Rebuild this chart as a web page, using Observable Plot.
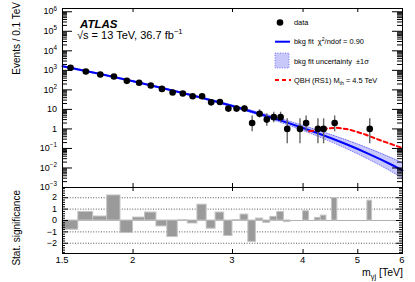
<!DOCTYPE html>
<html>
<head>
<meta charset="utf-8">
<script src="https://cdn.jsdelivr.net/npm/d3@7"></script>
<script src="https://cdn.jsdelivr.net/npm/@observablehq/plot@0.6"></script>
<style>
  html, body { margin: 0; padding: 0; background: #fff; }
  #chart { position: relative; width: 415px; height: 282px; overflow: hidden; background: #fff; }
  #chart svg { position: absolute; left: 0; overflow: visible; background: transparent; }
  #chart text { white-space: pre; }
</style>
</head>
<body>
<div id="chart"></div>
<script>
const FONT = "'Liberation Sans', Arial, Helvetica, sans-serif";

// ---- data ----
const dataMass   = [1.55,1.65,1.75,1.85,1.95,2.05,2.15,2.25,2.35,2.45,2.55,2.65,2.75,2.85,2.95,3.05,3.15,3.25,3.35,3.45,3.55,3.65,3.75,3.95,4.05,4.25,4.35,4.55,5.25];
const dataEvents = [1350,870,610,480,290,230,166,112,73,65,47,47,23,24,11,11,11,2,6,3,4,4,1,1,2,1,1,2,1];
const dataErrLow = [1313,840,585,458,273,214.8,153.1,101.4,64.5,57.0,40.1,40.1,18.3,19.2,7.82,7.82,7.82,0.708,3.62,1.37,2.09,2.09,0.173,0.173,0.708,0.173,0.173,0.708,0.173];
const dataErrHigh= [1387,900,635,502,307,245.2,178.9,123.6,81.6,73.1,54.0,54.0,28.5,29.6,15.3,15.3,15.3,4.64,9.58,5.92,7.16,7.16,3.30,3.30,4.64,3.30,3.30,4.64,3.30];

const fitMass     = [1.5,1.75,2,2.25,2.5,2.75,3,3.25,3.5,3.75,4,4.25,4.5,4.75,5,5.25,5.5,5.75,6];
const fitValue    = [1622,644,277,126,59.7,29.3,14.8,7.6,3.97,2.10,1.12,0.600,0.323,0.174,0.0935,0.050,0.0268,0.0142,0.0076];
const fitBandLow  = [1494,607,261,119,55.6,26.7,13.2,6.60,3.29,1.66,0.833,0.421,0.211,0.106,0.0524,0.0261,0.0129,0.00629,0.00313];
const fitBandHigh = [1761,683,294,134,64.1,32.2,16.7,8.76,4.80,2.66,1.51,0.855,0.494,0.286,0.167,0.0958,0.0557,0.0321,0.0184];

const qbhMass  = [4.1,4.28,4.43,4.58,4.77,4.97,5.17,5.38,5.6,5.83,6.0];
const qbhValue = [0.75,0.9,1.07,1.15,1.0,0.73,0.5,0.32,0.21,0.14,0.105];

const sigBinLow = [1.5,1.6,1.7,1.8,1.9,2.0,2.1,2.2,2.3,2.4,2.5,2.6,2.7,2.8,2.9,3.0,3.1,3.2,3.3,3.4,3.5,3.6,3.7,3.8,3.9,4.0,4.1,4.2,4.3,4.4,4.5,4.6,4.7,4.8,4.9,5.0,5.1,5.2,5.3,5.4,5.5,5.6,5.7,5.8,5.9];
const sigValue  = [-0.81,0.75,0.35,2.2,-1.1,0.26,0.7,-0.52,-1.45,0.02,-0.26,1.39,-0.72,0.7,-1.36,0.03,0.52,-1.88,0.17,-0.2,0.32,0.75,-0.14,0,0,0.81,0,0.23,0.43,0,1.97,0,0,0,0,0,0,1.74,0,0,0,0,0,0,0];

const xTickValues = [1.5,2,3,4,5,6];
const xTickLabels = ["1.5","2","3","4","5","6"];
const xMajorTicks = [2,3,4,5];
const yTickValues = [1e6,1e5,1e4,1e3,1e2,1e1,1,1e-1,1e-2,1e-3];
const yTickBase   = ["10","10","10","10","10","10","1","10","10","10"];
const yTickExp    = ["6","5","4","3","2","","","\u22121","\u22122","\u22123"];
const sigTickValues = [2,1,0,-1,-2];
const sigTickLabels = ["2","1","0","\u22121","\u22122"];
const sigGrid = [-2,-1,1,2];

// ---- tables ----
const fitTable  = fitMass.map((m,i)=>({m, v: fitValue[i], lo: fitBandLow[i], hi: fitBandHigh[i]}));
const qbhTable  = qbhMass.map((m,i)=>({m, v: qbhValue[i]}));
const dataTable = dataMass.map((m,i)=>({m, n: dataEvents[i], lo: dataErrLow[i], hi: dataErrHigh[i]}));
const sigTable  = sigBinLow.map((lo,i)=>({lo, hi: +(lo+0.1).toFixed(1), v: sigValue[i]})).filter(d=>d.v!==0);

// ---- layout ----
const W = 415, ML = 62, MR = 13, FW = W - ML - MR;
const mainH = 187, mainMT = 8, mainFH = mainH - mainMT;
const lowH = 95, lowMB = 29, lowFH = lowH - lowMB;

const yMinor = [];
for (let e = -3; e <= 6; e++) for (let k = 2; k <= 9; k++) { const v = k * Math.pow(10, e); if (v <= 1.47e6) yMinor.push(v); }
const sigMinor = [];
for (let k = -14; k <= 14; k++) if (k % 5 !== 0) sigMinor.push(k / 5);

const st = {fontFamily: FONT, background: "transparent", overflow: "visible"};

const main = Plot.plot({
  width: W, height: mainH, marginLeft: ML, marginRight: MR, marginTop: mainMT, marginBottom: 0,
  style: st,
  x: {type: "log", domain: [1.5, 6], axis: null},
  y: {type: "log", domain: [1e-3, 1.47e6], axis: null},
  marks: [
    Plot.areaY(fitTable, {x: "m", y1: "lo", y2: "hi", fill: "#c8c8fa"}),
    Plot.line(fitTable, {x: "m", y: "lo", stroke: "#5a5aff", strokeWidth: 0.8, strokeDasharray: "1,1.5"}),
    Plot.line(fitTable, {x: "m", y: "hi", stroke: "#5a5aff", strokeWidth: 0.8, strokeDasharray: "1,1.5"}),
    Plot.line(fitTable, {x: "m", y: "v", stroke: "#0000ff", strokeWidth: 2}),
    Plot.line(qbhTable, {x: "m", y: "v", stroke: "#ff0000", strokeWidth: 2, strokeDasharray: "4,3"}),
    Plot.ruleX(dataTable, {x: "m", y1: "lo", y2: "hi", stroke: "#666", strokeWidth: 1.4}),
    Plot.dot(dataTable, {x: "m", y: "n", r: 3.3, fill: "black"}),
    Plot.tickY(yTickValues, {insetRight: FW - 10, stroke: "black"}),
    Plot.tickY(yMinor, {insetRight: FW - 5, stroke: "black"}),
    Plot.tickY(yTickValues, {insetLeft: FW - 10, stroke: "black"}),
    Plot.tickY(yMinor, {insetLeft: FW - 5, stroke: "black"}),
    Plot.tickX(xMajorTicks, {insetTop: mainFH - 4, stroke: "black"}),
    Plot.tickX(xMajorTicks, {insetBottom: mainFH - 4, stroke: "black"}),
    Plot.frame({stroke: "black", strokeWidth: 1})
  ]
});

const lower = Plot.plot({
  width: W, height: lowH, marginLeft: ML, marginRight: MR, marginTop: 0, marginBottom: lowMB,
  style: st,
  x: {type: "log", domain: [1.5, 6], axis: null},
  y: {domain: [-2.9, 2.9], axis: null},
  marks: [
    Plot.ruleY(sigGrid, {stroke: "#444", strokeWidth: 0.9, strokeDasharray: "1,1.6"}),
    Plot.ruleY([0], {stroke: "#b0b0b0", strokeWidth: 1}),
    Plot.rectY(sigTable, {x1: "lo", x2: "hi", y1: 0, y2: "v", fill: "#9a9a9a", stroke: "#c4c4c4", strokeWidth: 1}),
    Plot.tickY(sigTickValues, {insetRight: FW - 6, stroke: "black"}),
    Plot.tickY(sigMinor, {insetRight: FW - 3, stroke: "black"}),
    Plot.tickY(sigTickValues, {insetLeft: FW - 6, stroke: "black"}),
    Plot.tickY(sigMinor, {insetLeft: FW - 3, stroke: "black"}),
    Plot.tickX(xMajorTicks, {insetTop: lowFH - 4, stroke: "black"}),
    Plot.tickX(xMajorTicks, {insetBottom: lowFH - 4, stroke: "black"}),
    Plot.frame({stroke: "black", strokeWidth: 1})
  ]
});

const chart = document.getElementById("chart");
main.style.top = "0px";
lower.style.top = mainH + "px";
chart.append(main, lower);

// ---- rich text helper (super/subscripts) ----
function rich(sel, x, y, parts, opt = {}) {
  const fs = opt.size || 10;
  const t = sel.append("text").attr("x", x).attr("y", y)
    .attr("font-size", fs).attr("font-family", FONT)
    .attr("text-anchor", opt.anchor || "start").attr("fill", "black")
    .style("white-space", "pre");
  if (opt.weight) t.attr("font-weight", opt.weight);
  if (opt.style) t.attr("font-style", opt.style);
  if (opt.transform) t.attr("transform", opt.transform);
  let shift = 0;
  parts.forEach(p => {
    const [txt, kind] = Array.isArray(p) ? p : [p, null];
    const ts = t.append("tspan").text(txt);
    let target = 0;
    if (kind === "sup") { target = -0.42 * fs; ts.attr("font-size", fs * 0.7); }
    else if (kind === "sub") { target = 0.3 * fs; ts.attr("font-size", fs * 0.7); }
    const dy = target - shift;
    if (dy) ts.attr("dy", dy);
    shift = target;
  });
  return t;
}

const sm = d3.select(main), sl = d3.select(lower);
const ysM = main.scale("y"), xsL = lower.scale("x"), ysL = lower.scale("y");

// main y tick labels
yTickValues.forEach((v, i) => {
  const parts = yTickExp[i] ? [yTickBase[i], [yTickExp[i], "sup"]] : [yTickBase[i]];
  rich(sm, 57, ysM.apply(v) + 3.2, parts, {size: 9, anchor: "end"});
});
rich(sm, 0, 0, ["Events / 0.1 TeV"], {size: 10, anchor: "end", transform: "translate(20,2) rotate(-90)"});

// ATLAS label
rich(sm, 80, 28, ["ATLAS"], {size: 11.5, weight: "bold", style: "italic"});
rich(sm, 77, 38.5, ["\u221As = 13 TeV, 36.7 fb", ["\u22121", "sup"]], {size: 11});

// legend
sm.append("circle").attr("cx", 280).attr("cy", 22.5).attr("r", 3.3).attr("fill", "black");
rich(sm, 294, 25, ["data"], {size: 7.4});
sm.append("line").attr("x1", 275).attr("x2", 290).attr("y1", 41.7).attr("y2", 41.7).attr("stroke", "#0000ff").attr("stroke-width", 2);
rich(sm, 294, 44.2, ["bkg fit  \u03C7", ["2", "sup"], "/ndof = 0.90"], {size: 7.4});
sm.append("rect").attr("x", 275).attr("y", 53).attr("width", 14).attr("height", 15)
  .attr("fill", "#c8c8fa").attr("stroke", "#5a5aff").attr("stroke-width", 0.8).attr("stroke-dasharray", "1,1.5");
rich(sm, 294, 63.5, ["bkg fit uncertainty  \u00B11\u03C3"], {size: 7.4});
sm.append("line").attr("x1", 275).attr("x2", 291).attr("y1", 80).attr("y2", 80).attr("stroke", "#ff0000").attr("stroke-width", 2).attr("stroke-dasharray", "4,3");
rich(sm, 294, 82.5, ["QBH (RS1) M", ["th", "sub"], " = 4.5 TeV"], {size: 7.4});

// lower labels
sigTickValues.forEach((v, i) => rich(sl, 57, ysL.apply(v) + 3.2, [sigTickLabels[i]], {size: 9, anchor: "end"}));
xTickValues.forEach((v, i) => rich(sl, xsL.apply(v), 76, [xTickLabels[i]], {size: 9.5, anchor: "middle"}));
rich(sl, 0, 0, ["Stat. significance"], {size: 10, anchor: "end", transform: "translate(20,3) rotate(-90)"});
rich(sl, 403, 88.5, ["m", ["\u03B3j", "sub"], " [TeV]"], {size: 10.5, anchor: "end"});
</script>
</body>
</html>
